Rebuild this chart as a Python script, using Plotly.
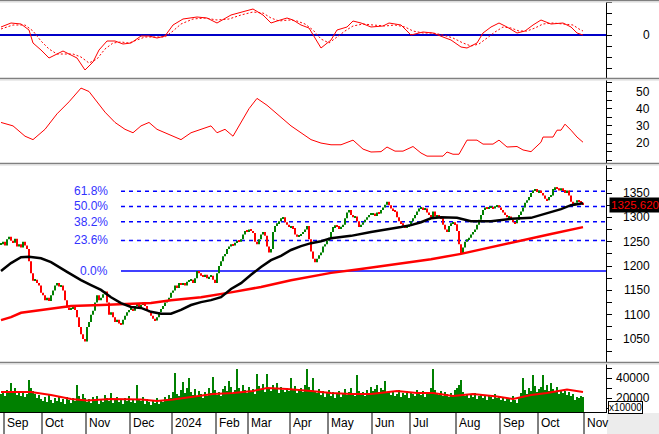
import plotly.graph_objects as go

# ---------------- data ----------------
close = [
    1245, 1250, 1242, 1255, 1260, 1252, 1248, 1256, 1240, 1245,
    1238, 1250, 1242, 1235, 1210, 1185, 1170, 1172, 1165, 1160,
    1145, 1140, 1130, 1135, 1128, 1140, 1150, 1160, 1165, 1158,
    1160, 1150, 1130, 1115, 1110, 1112, 1118, 1110, 1095, 1075,
    1060, 1050, 1045, 1075, 1085, 1100, 1108, 1125, 1140, 1130,
    1135, 1142, 1148, 1125, 1100, 1105, 1095, 1085, 1090, 1082,
    1080, 1090, 1098, 1105, 1110, 1112, 1108, 1118, 1122, 1115,
    1120, 1125, 1118, 1110, 1105, 1098, 1092, 1088, 1095, 1105,
    1112, 1118, 1125, 1130, 1135, 1145, 1150, 1160, 1155, 1165,
    1162, 1165, 1160, 1168, 1170, 1172, 1165, 1175, 1190, 1185,
    1180, 1178, 1182, 1175, 1178, 1180, 1172, 1165, 1185, 1200,
    1210, 1220, 1225, 1235, 1240, 1245, 1242, 1248, 1252, 1250,
    1255, 1265, 1272, 1270, 1275, 1272, 1268, 1250, 1245, 1255,
    1265, 1270, 1262, 1240, 1228, 1235, 1270, 1282, 1288, 1292,
    1298, 1300, 1290, 1285, 1280, 1282, 1278, 1265, 1260, 1262,
    1266, 1270, 1275, 1282, 1255, 1230, 1215, 1208, 1215, 1222,
    1228, 1240, 1245, 1252, 1258, 1270, 1280, 1284, 1282, 1278,
    1280, 1285, 1298, 1310, 1315, 1305, 1300, 1302, 1292, 1280,
    1285, 1290, 1295, 1300, 1305, 1306, 1308, 1303, 1310, 1308,
    1315, 1320, 1326, 1332, 1325, 1318, 1315, 1312, 1300, 1292,
    1288, 1283, 1280, 1282, 1285, 1292, 1298, 1305, 1312, 1318,
    1320, 1316, 1318, 1310, 1305, 1300, 1312, 1302, 1305, 1300,
    1298, 1285, 1275, 1270, 1282, 1288, 1290, 1286, 1272, 1245,
    1225, 1238, 1250, 1255, 1258, 1265, 1270, 1275, 1285, 1295,
    1305, 1315, 1320, 1318, 1321, 1322, 1318, 1323, 1325, 1320,
    1315, 1310, 1305, 1300, 1302, 1295, 1290, 1288, 1295, 1305,
    1312, 1320, 1330, 1335, 1342, 1350, 1355, 1358, 1352, 1355,
    1350, 1345, 1338, 1335, 1342, 1345, 1358, 1362, 1360, 1355,
    1360, 1356, 1352, 1355, 1345, 1332, 1325, 1330, 1335, 1332,
    1330, 1325.62,
]

volume = [
    24000, 26000, 22000, 28000, 25000, 35000, 27000, 30000, 23000, 26000,
    22000, 25000, 21000, 24000, 38000, 30000, 27000, 24000, 20000, 23000,
    19000, 17000, 21000, 16000, 24000, 18000, 15000, 20000, 17000, 22000,
    16000, 19000, 14000, 21000, 18000, 15000, 20000, 17000, 33000, 22000,
    18000, 24000, 20000, 16000, 19000, 15000, 21000, 17000, 22000, 14000,
    18000, 16000, 23000, 20000, 17000, 25000, 15000, 19000, 21000, 16000,
    18000, 14000, 20000, 17000, 22000, 16000, 19000, 15000, 33000, 18000,
    17000, 21000, 14000, 19000, 16000, 13000, 18000, 15000, 20000, 14000,
    17000, 16000, 21000, 19000, 23000, 20000, 26000, 45000, 24000, 22000,
    28000, 36000, 25000, 30000, 40000, 26000, 23000, 29000, 21000, 27000,
    24000, 20000, 26000, 22000, 30000, 25000, 41000, 28000, 23000, 26000,
    22000, 29000, 32000, 27000, 37000, 31000, 24000, 28000, 49000, 30000,
    26000, 33000, 28000, 25000, 31000, 27000, 29000, 24000, 44000, 32000,
    28000, 34000, 26000, 44000, 30000, 27000, 33000, 29000, 35000, 25000,
    31000, 28000, 26000, 30000, 27000, 40000, 29000, 32000, 25000, 28000,
    30000, 26000, 33000, 49000, 31000, 28000, 40000, 27000, 25000, 29000,
    23000, 27000, 21000, 25000, 28000, 22000, 26000, 20000, 24000, 27000,
    21000, 25000, 29000, 23000, 26000, 30000, 24000, 22000, 43000, 27000,
    24000, 26000, 22000, 28000, 25000, 31000, 27000, 29000, 33000, 26000,
    30000, 28000, 37000, 25000, 27000, 23000, 26000, 22000, 24000, 28000,
    21000, 25000, 23000, 27000, 20000, 26000, 24000, 22000, 28000, 25000,
    23000, 27000, 21000, 26000, 24000, 30000, 49000, 28000, 25000, 23000,
    27000, 22000, 26000, 24000, 21000, 25000, 23000, 28000, 30000, 33000,
    38000, 26000, 22000, 24000, 20000, 23000, 21000, 25000, 19000, 22000,
    24000, 20000, 23000, 18000, 22000, 21000, 19000, 24000, 20000, 22000,
    18000, 21000, 17000, 20000, 19000, 16000, 22000, 18000, 15000, 21000,
    25000, 40000, 28000, 24000, 30000, 27000, 43000, 32000, 26000, 29000,
    31000, 43000, 28000, 33000, 27000, 35000, 29000, 26000, 31000, 24000,
    28000, 25000, 27000, 23000, 26000, 22000, 24000, 18000, 21000, 20000,
    22000, 21000,
]

# moving averages of price (trading-day index, value)
ma50_idx = [0, 5, 10, 14, 20, 25, 33, 40, 45, 50, 55, 60, 65, 70, 75, 80, 85, 90, 95,
            100, 105, 110, 115, 120, 125, 130, 135, 140, 145, 150, 155, 160, 165, 175,
            185, 195, 200, 205, 210, 215, 220, 228, 235, 245, 255, 265, 272, 280, 285, 291]
ma50_val = [1190, 1206, 1218, 1219, 1216, 1208, 1188, 1171, 1161, 1151, 1136, 1124, 1116,
            1114, 1106, 1102, 1102, 1110, 1120, 1126, 1130, 1136, 1153, 1165, 1182, 1198,
            1212, 1221, 1233, 1241, 1247, 1251, 1257, 1262, 1270, 1276, 1280, 1284, 1290,
            1298, 1300, 1299, 1292, 1292, 1297, 1299, 1307, 1317, 1325, 1329]

ma200_idx = [0, 5, 10, 17, 25, 35, 50, 65, 75, 85, 100, 115, 130, 145, 160, 165, 180,
             200, 215, 230, 245, 260, 275, 291]
ma200_val = [1089, 1095, 1104, 1108, 1112, 1118, 1120, 1122, 1124, 1130, 1136, 1146, 1157,
             1171, 1182, 1186, 1194, 1206, 1214, 1225, 1239, 1252, 1266, 1280]

# volume moving average
vma_idx = [0, 15, 25, 35, 43, 55, 70, 78, 86, 96, 106, 116, 126, 133, 143, 155, 165, 175,
           185, 198, 208, 216, 226, 236, 248, 256, 265, 273, 283, 291]
vma_val = [26000, 26000, 23000, 19000, 17500, 19000, 18500, 17000, 18500, 21000, 24000,
           25000, 27000, 30000, 29000, 27000, 25000, 24000, 24000, 27000, 25000, 25000,
           22000, 24000, 21500, 19000, 23000, 25000, 28500, 26000]

# oscillator (top panel): main line and signal line
osc_idx = [0, 5, 10, 14, 16, 20, 24, 27, 31, 35, 38, 42, 46, 49, 53, 57, 61, 65, 70, 74,
           78, 82, 86, 91, 98, 103, 108, 115, 120, 126, 131, 135, 138, 143, 146, 150, 154,
           157, 160, 165, 168, 173, 176, 180, 185, 191, 194, 200, 205, 211, 216, 221, 225,
           230, 233, 238, 241, 245, 249, 253, 258, 262, 266, 270, 275, 281, 285, 288, 291]
osc_val = [8, 12, 11, 5, -8, -15, -23, -20, -16, -20, -23, -35, -27, -15, -6, -6, -9, -8,
           -1, -1, -3, -1, 10, 16, 18, 17, 12, 20, 23, 26, 20, 12, 14, 17, 15, 10, 7, -3,
           -13, -5, 5, 8, 14, 12, 8, 9, 12, 10, 0, 3, 2, -2, -5, -12, -13, -8, 2, 8, 12, 8,
           2, 4, 10, 15, 11, 12, 8, 2, 0]
sig_idx = [0, 6, 12, 16, 20, 24, 28, 32, 36, 40, 44, 48, 52, 56, 60, 64, 68, 72, 78, 82,
           86, 90, 96, 102, 108, 114, 120, 126, 131, 135, 139, 144, 148, 152, 156, 160,
           164, 168, 172, 176, 181, 186, 192, 197, 202, 206, 211, 216, 221, 226, 231, 235,
           239, 243, 247, 251, 255, 259, 263, 267, 271, 276, 282, 286, 289, 291]
sig_val = [6, 10, 10, 4, -6, -14, -19, -19, -19, -22, -28, -24, -14, -8, -7, -8, -5, -2,
           -2, -2, 4, 11, 16, 17, 15, 16, 20, 23, 22, 17, 14, 15, 14, 11, 5, -4, -8, -2, 4,
           9, 11, 10, 9, 10, 8, 4, 2, 2, 0, -3, -8, -11, -9, -3, 3, 8, 7, 4, 4, 7, 11, 12,
           11, 10, 6, 4]

# trend-strength line (second panel)
adx_idx = [0, 6, 12, 16, 22, 28, 34, 40, 44, 48, 52, 57, 62, 66, 70, 74, 78, 82, 86, 90,
           95, 100, 105, 108, 112, 116, 120, 124, 128, 133, 139, 145, 150, 155, 160, 165,
           170, 176, 181, 185, 190, 193, 197, 201, 206, 210, 213, 221, 223, 226, 229, 233,
           238, 241, 246, 249, 253, 258, 261, 265, 270, 271, 276, 278, 280, 282, 285, 288, 291]
adx_val = [32, 30, 24, 22, 28, 37, 44, 52, 50, 44, 38, 32, 28, 26, 30, 32, 28, 26, 24, 22,
           26, 28, 30, 26, 28, 24, 32, 40, 46, 42, 36, 30, 26, 22, 20, 19, 19, 21.7, 16.5,
           14.8, 15, 17.7, 15.3, 15.3, 18, 14.2, 12.4, 12.4, 14.8, 13.5, 13.5, 21.7, 21.7,
           19.4, 19.4, 21.7, 17.7, 18, 16, 15, 20.5, 23.5, 23.5, 27.5, 27.5, 31, 27.5, 23.5,
           20.5]

# Fibonacci retracement
fib_labels = ["0.0%", "23.6%", "38.2%", "50.0%", "61.8%"]
fib_ratio = [0.0, 0.236, 0.382, 0.5, 0.618]
fib_low = 1190
fib_range = 265
fib_start_idx = 60

# x-axis months (first trading-day index of each month)
month_labels = ["Sep", "Oct", "Nov", "Dec", "2024", "Feb", "Mar", "Apr", "May", "Jun",
                "Jul", "Aug", "Sep", "Oct", "Nov"]
month_start = [2, 21, 43, 65, 86, 108, 124, 145, 164, 186, 205, 228, 250, 269, 292]

price_labels = [1050, 1100, 1150, 1200, 1250, 1300, 1350]
adx_labels = [20, 30, 40, 50]
vol_labels = [20000, 40000]

# ---------------- figure ----------------
W, H = 659, 434
ML, MR, MT, MB = 0, 53, 0, 22
PW, PH = W - ML - MR, H - MT - MB


def py(p):  # pixel y -> paper y
    return 1 - (p - MT) / PH


def px(p):  # pixel x -> paper x
    return (p - ML) / PW


idx = list(range(len(close)))
opens = [close[0]] + close[:-1]
body_base = [min(o, c) for o, c in zip(opens, close)]
body_len = [max(abs(c - o), 2.5) for o, c in zip(opens, close)]

GREEN = "#008000"
RED = "#ff0000"
BLUE = "#0000ff"
body_color = [GREEN if c >= o else RED for o, c in zip(opens, close)]

fig = go.Figure()

# oscillator panel
fig.add_trace(go.Scatter(x=sig_idx, y=sig_val, mode="lines", xaxis="x", yaxis="y",
                         line=dict(color=RED, width=1, dash="2px,2px")))
fig.add_trace(go.Scatter(x=osc_idx, y=osc_val, mode="lines", xaxis="x", yaxis="y",
                         line=dict(color=RED, width=1)))
# trend panel
fig.add_trace(go.Scatter(x=adx_idx, y=adx_val, mode="lines", xaxis="x", yaxis="y2",
                         line=dict(color=RED, width=1)))
# price panel
fig.add_trace(go.Scatter(x=ma200_idx, y=ma200_val, mode="lines", xaxis="x", yaxis="y3",
                         line=dict(color=RED, width=2.5)))
fig.add_trace(go.Scatter(x=ma50_idx, y=ma50_val, mode="lines", xaxis="x", yaxis="y3",
                         line=dict(color="black", width=2.5)))
fig.add_trace(go.Bar(x=idx, y=body_len, base=body_base, xaxis="x", yaxis="y3", width=0.9,
                     marker=dict(color=body_color, line=dict(width=0))))
# volume panel
fig.add_trace(go.Bar(x=idx, y=volume, xaxis="x", yaxis="y4", width=1.0,
                     marker=dict(color=GREEN, line=dict(width=0))))
fig.add_trace(go.Scatter(x=vma_idx, y=vma_val, mode="lines", xaxis="x", yaxis="y4",
                         line=dict(color=RED, width=2)))

yax_common = dict(side="right", anchor="x", showline=True, linecolor="black", linewidth=1,
                  ticks="outside", ticklen=5, tickcolor="black", showticklabels=False,
                  showgrid=False, zeroline=False, fixedrange=True)

fig.update_layout(
    width=W, height=H, margin=dict(l=ML, r=MR, t=MT, b=MB),
    paper_bgcolor="white", plot_bgcolor="white", showlegend=False, barmode="overlay",
    font=dict(family="Liberation Sans, Arial, sans-serif", size=12, color="black"),
    xaxis=dict(domain=[0, 1], range=[-0.5, 302.5], anchor="y4", showgrid=False,
               zeroline=False, showticklabels=False, ticks="", showline=True,
               linecolor="black", linewidth=1),
    yaxis=dict(domain=[py(78), py(2)], range=[-43, 33],
               tickvals=[-33, -22, -11, 0, 11, 22, 33], **yax_common),
    yaxis2=dict(domain=[py(163), py(80)], range=[8.4, 56.7],
                tickvals=list(range(10, 60, 5)), **yax_common),
    yaxis3=dict(domain=[py(362), py(165)], range=[1003, 1407.5],
                tickvals=list(range(1025, 1401, 25)), **yax_common),
    yaxis4=dict(domain=[0, py(364)], range=[6000, 54000],
                tickvals=list(range(10000, 50001, 10000)), **yax_common),
)

shapes = []
annotations = []

# oscillator zero line
shapes.append(dict(type="line", xref="paper", x0=0, x1=1, yref="y", y0=0, y1=0,
                   line=dict(color="#0000c8", width=2), layer="below"))

# Fibonacci lines and labels
for lab, r in zip(fib_labels, fib_ratio):
    lvl = fib_low + r * fib_range
    shapes.append(dict(type="line", xref="x", x0=fib_start_idx, x1=302.5, yref="y3",
                       y0=lvl, y1=lvl, layer="below",
                       line=dict(color=BLUE, width=1.5, dash="solid" if r == 0 else "4px,4px")))
    annotations.append(dict(text=lab, xref="x", x=fib_start_idx - 5.5, xanchor="right",
                            yref="y3", y=lvl, yanchor="middle", showarrow=False,
                            font=dict(color="#3333ff", size=12)))

# panel separators
for ysep in [0.5, 78.5, 163.5, 362.5]:
    shapes.append(dict(type="line", xref="paper", x0=0, x1=px(W), yref="paper",
                       y0=py(ysep), y1=py(ysep), line=dict(color="#808080", width=1.5)))
    shapes.append(dict(type="line", xref="paper", x0=0, x1=px(W), yref="paper",
                       y0=py(ysep + 1.5), y1=py(ysep + 1.5), line=dict(color="#d8d8d8", width=1)))

# bottom right grey block
shapes.append(dict(type="rect", xref="paper", x0=px(607), x1=px(W), yref="paper",
                   y0=py(H), y1=py(413), fillcolor="#ececec", line=dict(width=0), layer="below"))

# month ticks and labels
for lab, m in zip(month_labels, month_start):
    shapes.append(dict(type="line", xref="x", x0=m - 0.5, x1=m - 0.5, yref="paper",
                       y0=py(412), y1=py(H), line=dict(color="black", width=1)))
    annotations.append(dict(text=lab, xref="x", x=m - 0.5, xanchor="left", xshift=1,
                            yref="paper", y=py(423), yanchor="middle", showarrow=False,
                            font=dict(size=12, color="black")))

# right-side tick labels
RX = px(652)
annotations.append(dict(text="0", xref="paper", x=RX, xanchor="right", yref="y", y=0,
                        yanchor="middle", showarrow=False))
for v in adx_labels:
    annotations.append(dict(text=str(v), xref="paper", x=RX, xanchor="right", yref="y2",
                            y=v, yanchor="middle", showarrow=False))
for v in price_labels:
    annotations.append(dict(text=str(v), xref="paper", x=RX, xanchor="right", yref="y3",
                            y=v, yanchor="middle", showarrow=False))
for v in vol_labels:
    annotations.append(dict(text=str(v), xref="paper", x=RX, xanchor="right", yref="y4",
                            y=v, yanchor="middle", showarrow=False))

# last price box
annotations.append(dict(text=f"{close[-1]:.3f}", xref="paper", x=px(609), xanchor="left",
                        yref="y3", y=close[-1], yanchor="middle", showarrow=False,
                        bgcolor="black", borderpad=1, font=dict(color=RED, size=11.5)))
# volume unit box
annotations.append(dict(text="x10000", xref="paper", x=px(608), xanchor="left",
                        yref="paper", y=py(407), yanchor="middle", showarrow=False,
                        bgcolor="white", bordercolor="black", borderwidth=1, borderpad=0,
                        font=dict(color="black", size=10)))

fig.update_layout(shapes=shapes, annotations=annotations)
fig.write_html("out.html")
